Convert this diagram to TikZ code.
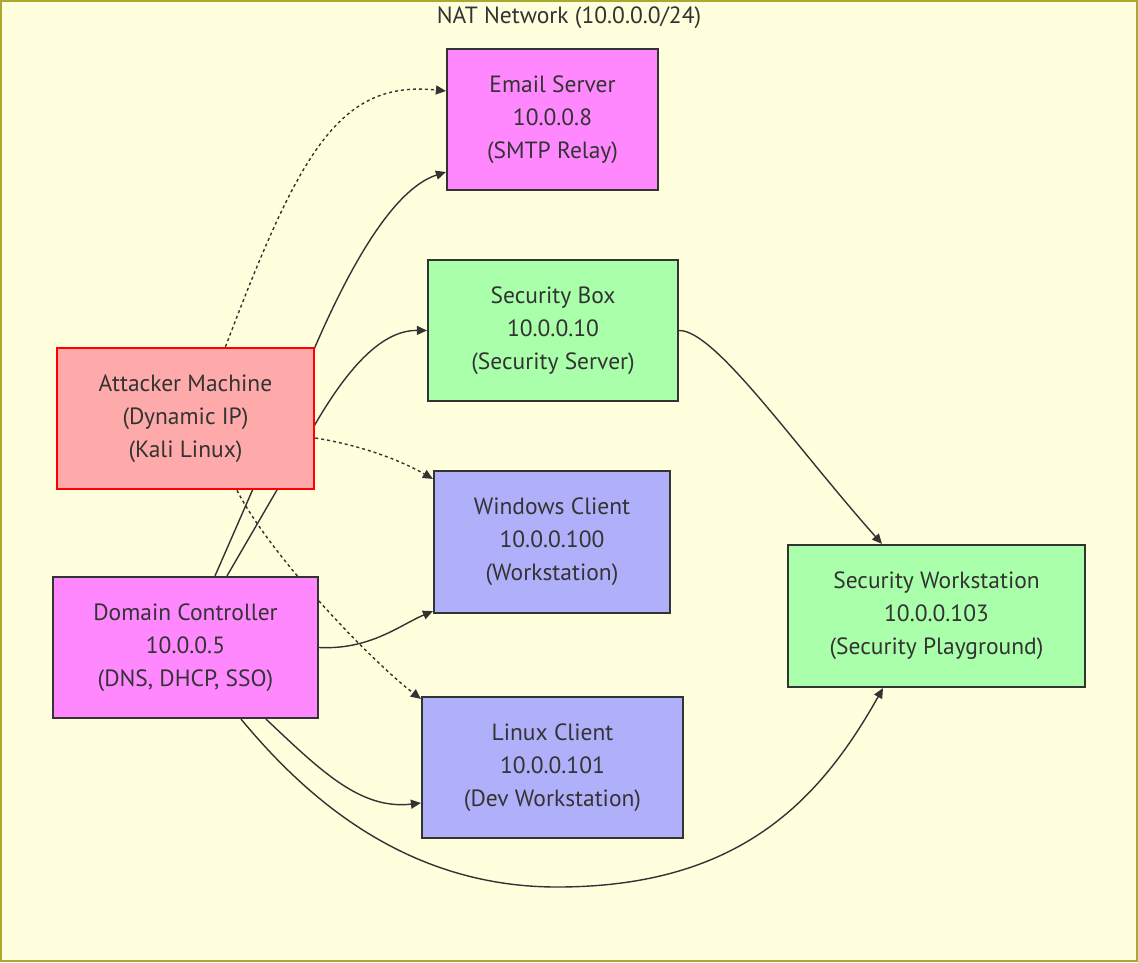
\documentclass[tikz,border=0pt]{standalone}
\usepackage{fontspec}
\setmainfont{PT Sans}
\usetikzlibrary{arrows.meta}
\definecolor{bgc}{HTML}{FFFFDE}
\definecolor{bord}{HTML}{AAAA33}
\definecolor{dark}{HTML}{333333}
\definecolor{magc}{HTML}{FF88FF}
\definecolor{greenc}{HTML}{AAFFAA}
\definecolor{bluec}{HTML}{B0B0FA}
\definecolor{redfill}{HTML}{FFAAAA}
\definecolor{redline}{HTML}{FF0000}
\pgfdeclarelayer{bg}
\pgfdeclarelayer{edges}
\pgfsetlayers{bg,edges,main}
\begin{document}
\begin{tikzpicture}[x=1pt,y=-1pt,
  box/.style={rectangle, draw=dark, line width=2.2pt, align=center, text=dark,
    font=\fontsize{23.5}{33}\selectfont, inner sep=0pt},
  link/.style={draw=dark, line width=1.4pt, -{Triangle[length=10pt,width=9pt]}},
  dotlink/.style={link, dash pattern=on 3pt off 3pt}]
\path[use as bounding box] (0,0) rectangle (1138,962);
\begin{pgfonlayer}{bg}
\draw[fill=bgc, draw=bord, line width=1.5pt] (1,1) rectangle (1137,961);
\end{pgfonlayer}
\node[text=dark, font=\fontsize{23.5}{33}\selectfont] (title) at (569,18) {NAT Network (10.0.0.0/24)};
\node[box, fill=magc, minimum width=211pt, minimum height=141pt] (email) at (552.5,119.5) {Email Server\\10.0.0.8\\(SMTP Relay)};
\node[box, fill=greenc, minimum width=250pt, minimum height=141pt] (secbox) at (553,330.5) {Security Box\\10.0.0.10\\(Security Server)};
\node[box, fill=redfill, draw=redline, line width=2.6pt, minimum width=257pt, minimum height=141pt] (att) at (185.5,418.5) {Attacker Machine\\(Dynamic IP)\\(Kali Linux)};
\node[box, fill=bluec, minimum width=236pt, minimum height=142pt] (win) at (552,542) {Windows Client\\10.0.0.100\\(Workstation)};
\node[box, fill=magc, minimum width=265pt, minimum height=141pt] (dc) at (185.5,647.5) {Domain Controller\\10.0.0.5\\(DNS, DHCP, SSO)};
\node[box, fill=greenc, minimum width=297pt, minimum height=142pt] (secws) at (936.5,616) {Security Workstation\\10.0.0.103\\(Security Playground)};
\node[box, fill=bluec, minimum width=261pt, minimum height=141pt] (linux) at (552.5,767.5) {Linux Client\\10.0.0.101\\(Dev Workstation)};
\begin{pgfonlayer}{edges}
\coordinate (k1) at (315,347);
\coordinate (k2) at (313,428);
\coordinate (k3) at (557,887);
\draw[dotlink] ([xshift=40pt]att.north) .. controls (300,150) and (340,80) .. ([yshift=28.5pt]email.west);
\draw[link] ([xshift=29.5pt]dc.north) -- (k1) .. controls (345,278) and (390,190) .. ([yshift=-52.5pt]email.west);
\draw[link] ([xshift=41.5pt]dc.north) -- (k2) .. controls (345,372) and (380,330) .. (secbox.west);
\draw[dotlink] ([yshift=-19.5pt]att.east) .. controls (360,445) and (400,460) .. ([yshift=-9pt]win.north west);
\draw[dotlink] ([xshift=51.5pt]att.south) .. controls (270,555) and (370,660) .. ([yshift=-3pt]linux.north west);
\draw[link] (dc.east) .. controls (370,650) and (400,625) .. ([yshift=3pt]win.south west);
\draw[link] ([xshift=80.5pt]dc.south) .. controls (320,770) and (360,810) .. ([yshift=-35.5pt]linux.west);
\draw[link] ([xshift=55.5pt]dc.south) .. controls (300,790) and (400,887) .. (k3) .. controls (740,887) and (820,800) .. ([xshift=-53.5pt]secws.south);
\draw[link] (secbox.east) .. controls (715,330) and (794,445) .. ([xshift=-54.5pt]secws.north);
\end{pgfonlayer}
\end{tikzpicture}
\end{document}
